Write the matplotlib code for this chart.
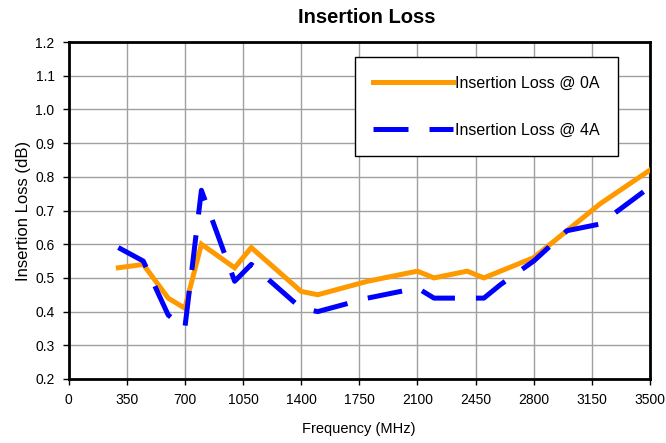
import matplotlib
matplotlib.use("Agg")
import matplotlib.pyplot as plt
import numpy as np

# ---- data ----
freq_mhz = [300, 450, 600, 700, 800, 1000, 1100, 1400, 1500, 1800, 2100,
            2200, 2400, 2500, 2600, 2800, 3000, 3200, 3500]
loss_0a = [0.53, 0.54, 0.44, 0.41, 0.60, 0.53, 0.59, 0.46, 0.45, 0.49, 0.52,
           0.50, 0.52, 0.50, 0.52, 0.56, 0.64, 0.72, 0.82]
loss_4a = [0.59, 0.55, 0.39, 0.35, 0.76, 0.49, 0.54, 0.41, 0.40, 0.44, 0.47,
           0.44, 0.44, 0.44, 0.48, 0.55, 0.64, 0.66, 0.77]
x_ticks = [0, 350, 700, 1050, 1400, 1750, 2100, 2450, 2800, 3150, 3500]
y_ticks = [0.2, 0.3, 0.4, 0.5, 0.6, 0.7, 0.8, 0.9, 1.0, 1.1, 1.2]
series_labels = ["Insertion Loss @ 0A", "Insertion Loss @ 4A"]

plt.rcParams['font.family'] = ['Liberation Sans', 'DejaVu Sans']

fig = plt.figure(figsize=(6.66, 4.43), dpi=100)
ax = fig.add_axes([68.5 / 666, 1 - 379 / 443, (650 - 68.5) / 666, (379 - 42) / 443])

ax.plot(freq_mhz, loss_0a, color='#FF9900', lw=3.6, label=series_labels[0],
        solid_joinstyle='miter', zorder=3)
ax.plot(freq_mhz, loss_4a, color='#0000FF', lw=3.6, label=series_labels[1],
        dashes=(7, 4.2), dash_capstyle='butt', zorder=3)

ax.set_xlim(0, 3500)
ax.set_ylim(0.2, 1.2)
ax.set_xticks(x_ticks)
ax.set_yticks(y_ticks)
ax.set_yticklabels([f"{v:.1f}" for v in y_ticks])
ax.grid(True, color='#A0A0A0', lw=1.0)
ax.set_axisbelow(True)
for s in ax.spines.values():
    s.set_linewidth(2.0)
    s.set_color('black')
ax.tick_params(axis='both', direction='out', length=4, width=1, labelsize=10,
               pad=6, colors='black')

ax.set_xlabel("Frequency (MHz)", fontsize=10.5, labelpad=11)
ax.set_ylabel("Insertion Loss (dB)", fontsize=12, labelpad=3)
ax.set_title("Insertion Loss", fontsize=14.5, fontweight='bold', pad=14, x=0.513)

leg = ax.legend(loc='upper left', bbox_to_anchor=((355 - 68.5) / 581.5, (379 - 57.3) / 337),
                fontsize=11.5, handlelength=5.0, handletextpad=0.1,
                labelspacing=2.0, borderpad=1.15, frameon=True, fancybox=False,
                framealpha=1, edgecolor='black', borderaxespad=0)
leg.get_frame().set_linewidth(1.0)

fig.savefig("out.png", dpi=100, facecolor='white')
